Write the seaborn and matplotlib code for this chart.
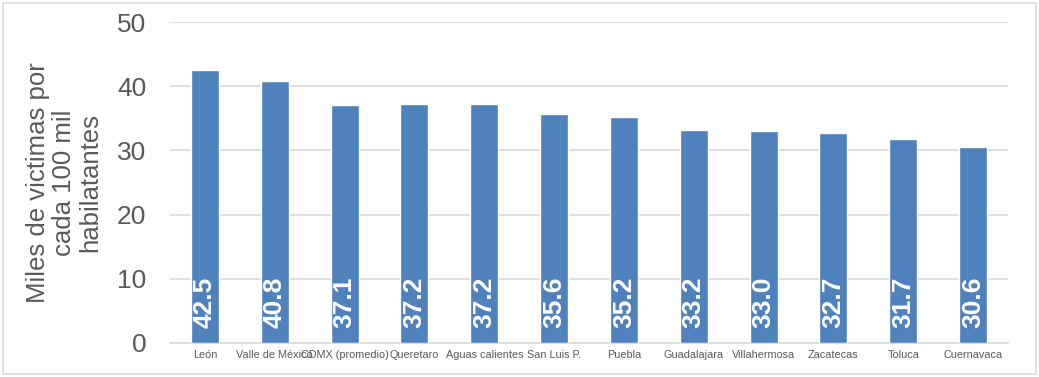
import matplotlib
matplotlib.use("Agg")
import matplotlib.pyplot as plt
import seaborn as sns
import pandas as pd
from matplotlib.patches import Rectangle

cities = ["León", "Valle de México", "CDMX (promedio)", "Queretaro", "Aguas calientes",
          "San Luis P.", "Puebla", "Guadalajara", "Villahermosa", "Zacatecas", "Toluca", "Cuernavaca"]
values = [42.5, 40.8, 37.1, 37.2, 37.2, 35.6, 35.2, 33.2, 33.0, 32.7, 31.7, 30.6]
yticks = [0, 10, 20, 30, 40, 50]

sns.set_theme(style="white")
plt.rcParams['font.family'] = ['Liberation Sans', 'DejaVu Sans']

df = pd.DataFrame({"city": cities, "value": values})

fig = plt.figure(figsize=(10.39, 3.77), dpi=100)
ax = fig.add_axes([170/1039, 1-343/377, 838/1039, 321/377])

sns.barplot(data=df, x="city", y="value", color="#4f81bd", saturation=1, width=0.4, ax=ax, zorder=3)

ax.set_ylim(0, 50)
ax.set_yticks(yticks)
ax.set_xlim(-0.5, len(cities) - 0.5)
ax.grid(axis="y", color="#d9d9d9", linewidth=1.2, zorder=0)
ax.set_axisbelow(True)
for s in ["top", "right", "left"]:
    ax.spines[s].set_visible(False)
ax.spines["bottom"].set_color("#d9d9d9")
ax.spines["bottom"].set_linewidth(1.2)

ax.tick_params(axis="y", length=0, pad=17, labelsize=19, labelcolor="#595959")
ax.tick_params(axis="x", length=0, pad=5, labelsize=7.8, labelcolor="#595959")
ax.set_xlabel("")
ax.set_ylabel("Miles de victimas por\ncada 100 mil\nhabilatantes", fontsize=18.5, color="#595959",
              linespacing=1.12, va="center", ha="center")
ax.yaxis.set_label_coords(-0.1265, 0.5)

for i, v in enumerate(values):
    ax.text(i, 2.3, f"{v:.1f}", rotation=90, ha="center", va="bottom",
            color="white", fontweight="bold", fontsize=19, zorder=4)

fig.patches.append(Rectangle((3/1039, 3/377), 1033/1039, 371/377, transform=fig.transFigure,
                             fill=False, edgecolor="#d9d9d9", linewidth=1.2))

fig.savefig("out.png", dpi=100)
